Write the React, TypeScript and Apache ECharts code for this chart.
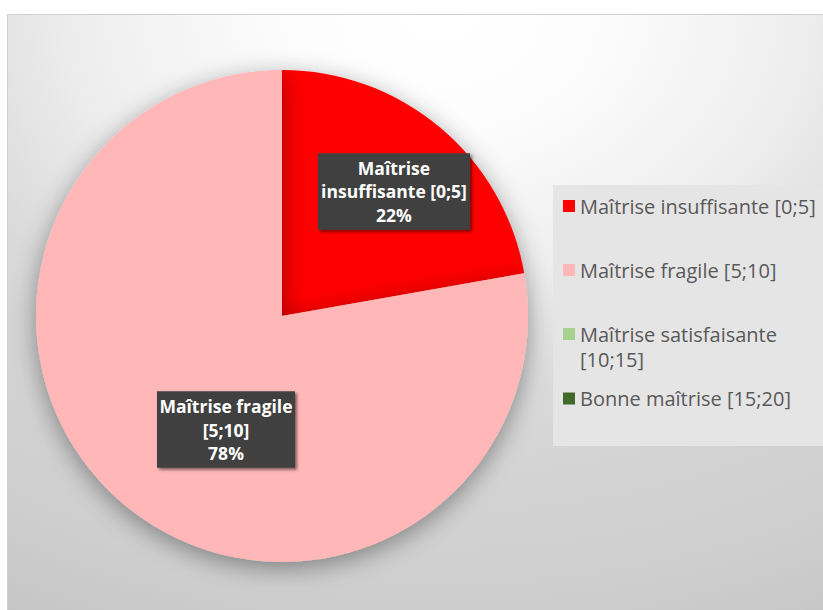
import { useEffect, useRef } from "react";
import * as echarts from "echarts";

const categories = [
  "Maîtrise insuffisante [0;5]",
  "Maîtrise fragile [5;10]",
  "Maîtrise satisfaisante [10;15]",
  "Bonne maîtrise [15;20]",
];
const legendLabels = [
  "Maîtrise insuffisante [0;5]",
  "Maîtrise fragile [5;10]",
  "Maîtrise satisfaisante\n[10;15]",
  "Bonne maîtrise [15;20]",
];
const sliceLabelLines = [
  ["Maîtrise", "insuffisante [0;5]"],
  ["Maîtrise fragile", "[5;10]"],
  ["Maîtrise satisfaisante", "[10;15]"],
  ["Bonne maîtrise", "[15;20]"],
];
const values = [2, 7, 0, 0];
const colors = ["#ff0000", "#ffb7b7", "#a9d18e", "#43682b"];
const labelWidths = [144, 130, 130, 130];
const labelShift = [
  [31, -28],
  [25, 17],
  [0, 0],
  [0, 0],
];

const FONT = "Open Sans";

export default function App() {
  const ref = useRef<HTMLDivElement>(null);
  useEffect(() => {
    const chart = echarts.init(ref.current!, null, { renderer: "svg" });
    const legendText = {
      fontFamily: FONT,
      fontSize: 20,
      color: "#595959",
      lineHeight: 25,
    };
    const legendBase = {
      orient: "vertical",
      left: 555,
      padding: 0,
      itemWidth: 12,
      itemHeight: 12,
      itemGap: 39,
      icon: "rect",
      selectedMode: false,
      formatter: (name: string) => legendLabels[categories.indexOf(name)],
      textStyle: legendText,
    };
    chart.setOption({
      animation: false,
      backgroundColor: {
        type: "radial",
        x: 0.53,
        y: 0.0,
        r: 1.15,
        colorStops: [
          { offset: 0, color: "#ffffff" },
          { offset: 0.15, color: "#fdfdfd" },
          { offset: 0.38, color: "#eeeeee" },
          { offset: 0.56, color: "#d9d9d9" },
          { offset: 0.63, color: "#d5d5d5" },
          { offset: 0.87, color: "#cdcdcd" },
          { offset: 1, color: "#c4c4c4" },
        ],
      },
      graphic: [
        {
          type: "rect",
          left: 545,
          top: 170,
          shape: { width: 290, height: 261 },
          style: { fill: "#e5e5e5" },
          silent: true,
        },
      ],
      legend: [
        { ...legendBase, top: 178.5, data: [categories[0], categories[1]] },
        {
          ...legendBase,
          top: 306.5,
          itemHeight: 50,
          icon: "path://M0,0M0,6.5L12,6.5L12,18.5L0,18.5ZM0,50",
          data: [categories[2]],
        },
        { ...legendBase, top: 371, data: [categories[3]] },
      ],
      series: [
        {
          type: "pie",
          center: [274, 301],
          radius: [0, 246],
          startAngle: 90,
          clockwise: true,
          silent: true,
          emphasis: { disabled: true },
          itemStyle: {
            borderWidth: 0,
            shadowBlur: 25,
            shadowOffsetY: 6,
            shadowColor: "rgba(0,0,0,0.38)",
          },
          label: {
            show: true,
            position: "inside",
            fontFamily: FONT,
            fontWeight: "bold",
            fontSize: 17.5,
            lineHeight: 23.5,
            color: "#ffffff",
            align: "center",
            overflow: "none",
            backgroundColor: "#404040",
            padding: [3, 4],
            shadowColor: "rgba(0,0,0,0.5)",
            shadowBlur: 3,
            shadowOffsetX: 2,
            shadowOffsetY: 2,
            formatter: (p: any) =>
              sliceLabelLines[p.dataIndex].join("\n") + "\n" + Math.round(p.percent) + "%",
          },
          labelLine: { show: false },
          labelLayout: (p: any) => ({
            dx: labelShift[p.dataIndex][0],
            dy: labelShift[p.dataIndex][1],
          }),
          data: categories.map((name, i) => ({
            name,
            value: values[i],
            itemStyle: { color: colors[i] },
            label: { show: values[i] > 0, width: labelWidths[i] },
          })),
        },
      ],
    });
    return () => chart.dispose();
  }, []);
  return (
    <div
      style={{
        position: "absolute",
        left: 0,
        top: 0,
        width: 823,
        height: 610,
        overflow: "hidden",
        background: "#ffffff",
      }}
    >
      <div
        ref={ref}
        style={{
          position: "absolute",
          left: 7,
          top: 14,
          width: 816,
          height: 596,
          borderTop: "1px solid #d0d0d0",
          borderLeft: "1px solid #d0d0d0",
        }}
      />
    </div>
  );
}
